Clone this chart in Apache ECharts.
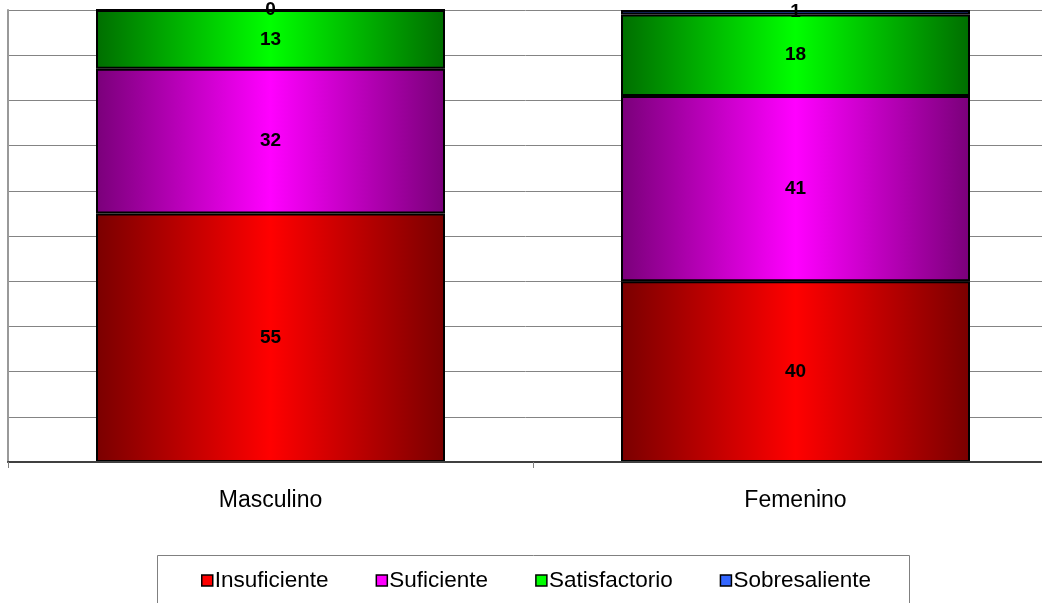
<!DOCTYPE html>
<html>
<head>
<meta charset="utf-8">
<script src="https://cdn.jsdelivr.net/npm/echarts@6/dist/echarts.min.js"></script>
<style>
html,body{margin:0;padding:0;background:#fff;}
#chart{width:1042px;height:603px;}
</style>
</head>
<body>
<div id="chart"></div>
<script>
const categories = ['Masculino', 'Femenino'];
const seriesNames = ['Insuficiente', 'Suficiente', 'Satisfactorio', 'Sobresaliente'];
const insuficiente = [55, 40];
const suficiente = [32, 41];
const satisfactorio = [13, 18];
const sobresaliente = [0, 1];

const seriesValues = [insuficiente, suficiente, satisfactorio, sobresaliente];
const darkColors = ['#7a0000', '#7a007a', '#006e00', '#1f3f9f'];
const brightColors = ['#ff0000', '#ff00ff', '#00ff00', '#3366ff'];
const font = '"Liberation Sans", Arial, sans-serif';

function grad(i) {
  return new echarts.graphic.LinearGradient(0, 0, 1, 0, [
    {offset: 0, color: darkColors[i]},
    {offset: 0.5, color: brightColors[i]},
    {offset: 1, color: darkColors[i]}
  ]);
}

const chart = echarts.init(document.getElementById('chart'));
chart.setOption({
  animation: false,
  backgroundColor: '#fff',
  grid: {left: 8, width: 1050, top: 10, height: 452, containLabel: false, outerBoundsMode: 'none'},
  xAxis: {
    type: 'category',
    data: categories,
    axisLine: {show: true, lineStyle: {color: '#404040', width: 2}},
    axisTick: {show: true, length: 6, lineStyle: {color: '#808080'}},
    axisLabel: {color: '#000', fontSize: 23, fontFamily: font, margin: 27},
    z: 10
  },
  yAxis: {
    type: 'value',
    min: 0, max: 100, interval: 10,
    axisLabel: {show: false},
    axisTick: {show: false},
    axisLine: {show: true, lineStyle: {color: '#999', width: 2}},
    splitLine: {show: true, lineStyle: {color: '#848484', width: 1}}
  },
  legend: {
    left: 201, top: 569, padding: 0,
    itemGap: 47, itemWidth: 11, itemHeight: 11,
    icon: 'rect',
    textStyle: {color: '#000', fontSize: 22.5, fontFamily: font, padding: [0, 0, 0, -3]},
    data: seriesNames.map((n, i) => ({
      name: n,
      itemStyle: {color: brightColors[i], borderColor: '#000', borderWidth: 1.5}
    }))
  },
  graphic: [{
    type: 'rect',
    shape: {x: 157.5, y: 555.5, width: 752, height: 100},
    style: {fill: 'none', stroke: '#808080', lineWidth: 1},
    silent: true
  }],
  series: seriesNames.map((n, i) => ({
    name: n,
    type: 'bar',
    stack: 'total',
    barWidth: 349,
    data: seriesValues[i],
    itemStyle: {color: grad(i), borderColor: '#000', borderWidth: 2},
    label: {
      show: true, position: 'inside', color: '#000',
      fontSize: 19, fontWeight: 'bold', fontFamily: font,
      formatter: '{c}'
    }
  }))
});
</script>
</body>
</html>
